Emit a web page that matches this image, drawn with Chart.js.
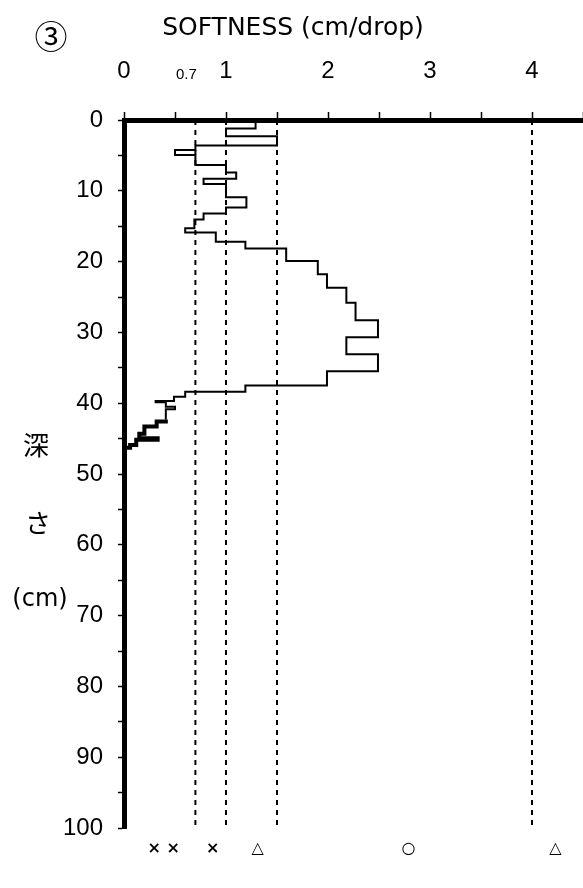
<!DOCTYPE html>
<html>
<head>
<meta charset="utf-8">
<script src="https://cdn.jsdelivr.net/npm/chart.js@4/dist/chart.umd.min.js"></script>
<style>
  body { margin: 0; background: #fff; }
  #wrap { width: 583px; height: 888px; }
</style>
</head>
<body>
<div id="wrap"><canvas id="myChart" width="583" height="888"></canvas></div>
<script>
// depth (cm) where each step starts, and the softness (cm/drop) of that step
const depth = [0, 1.2, 2.3, 3.6, 4.25, 4.95, 6.35, 7.4, 8.3, 9.05,
  10.9, 12.35, 13.2, 14.05, 15.3, 15.9, 17.2, 18.15, 19.9, 21.8,
  23.7, 25.8, 28.3, 30.7, 33.1, 35.5, 37.5, 38.4, 39.1, 39.7,
  39.85, 40.5, 40.85, 42.3, 42.6, 43.3, 44.3, 44.95, 45.15, 45.9,
  46.3];
const softness = [1.29, 1.0, 1.5, 0.7, 0.5, 0.7, 1.0, 1.1, 0.78, 1.0,
  1.2, 1.0, 0.78, 0.69, 0.6, 0.9, 1.19, 1.59, 1.9, 1.99,
  2.18, 2.27, 2.49, 2.18, 2.49, 1.99, 1.19, 0.6, 0.49, 0.31,
  0.41, 0.5, 0.41, 0.41, 0.32, 0.2, 0.15, 0.33, 0.12, 0.06,
  0];
// below this depth the drops are so close together the trace reads as a heavy line
const denseFrom = 42.3;

// dashed limits and the rating marks under each band
const refLines = [0.7, 1.0, 1.5, 4.0];
const markCenters = [0.39, 0.87, 1.31, 2.79, 4.23];
const markLabels = ['× ×', '×', '△', '○', '△'];

const xLabelValues = [0, 1, 2, 3, 4];
const yLabelValues = [0, 10, 20, 30, 40, 50, 60, 70, 80, 90, 100];
const chartTitle = 'SOFTNESS (cm/drop)';
const yTitle = ['深', 'さ', '(cm)'];

const profile = depth.map((d, i) => ({ x: softness[i], y: d }));

const limitSets = refLines.map((v) => ({
  data: [{ x: v, y: 0 }, { x: v, y: 100 }],
  showLine: true,
  borderColor: '#000',
  borderWidth: 2,
  borderDash: [5, 5],
  pointRadius: 0,
  order: 1
}));

const textPlugin = {
  id: 'texts',
  afterDraw(chart) {
    const { ctx } = chart;
    const x = chart.scales.x;
    ctx.save();
    ctx.fillStyle = '#000';
    ctx.textAlign = 'center';
    ctx.textBaseline = 'middle';

    ctx.font = '25px "DejaVu Sans"';
    ctx.fillText(chartTitle, 293, 28);

    ctx.font = '33px "Noto Sans CJK JP"';
    ctx.fillText('③', 51, 36);

    ctx.font = '26px "Noto Sans CJK JP"';
    ctx.fillText(yTitle[0], 36, 445);
    ctx.fillText(yTitle[1], 38, 523);
    ctx.font = '24px "DejaVu Sans"';
    ctx.fillText(yTitle[2], 40, 600);

    ctx.font = '15px "Liberation Sans"';
    ctx.fillText('0.7', x.getPixelForValue(0.7) - 9, 75);

    ctx.font = 'bold 16px "DejaVu Sans"';
    markLabels.forEach((m, i) => {
      ctx.fillText(m, x.getPixelForValue(markCenters[i]), 849);
    });
    ctx.restore();
  }
};

const tickFont = { family: '"Liberation Sans", Arial', size: 24 };

const ctx = document.getElementById('myChart');
const chart = new Chart(ctx, {
  type: 'scatter',
  data: {
    datasets: [
      {
        data: profile,
        showLine: true,
        stepped: 'after',
        borderColor: '#000',
        borderWidth: 2,
        pointRadius: 0,
        order: 0,
        segment: {
          borderWidth: (c) => c.p0.parsed.y >= denseFrom ? 4 : 2
        }
      },
      ...limitSets
    ]
  },
  options: {
    responsive: false,
    animation: false,
    layout: { padding: { left: 0, top: 0, right: 0, bottom: 60 } },
    plugins: { legend: { display: false }, tooltip: { enabled: false } },
    scales: {
      x: {
        type: 'linear',
        position: 'top',
        min: 0,
        max: 4.5,
        afterFit: (scale) => {
          scale.height = 120;
          scale.paddingLeft = 0;
          scale.paddingRight = 0;
        },
        ticks: {
          stepSize: 0.5,
          padding: 26,
          color: '#000',
          font: tickFont,
          maxRotation: 0,
          callback: (v) => xLabelValues.includes(v) ? String(v) : ''
        },
        grid: { drawOnChartArea: false, tickLength: 8, tickWidth: 1.5, color: '#000' },
        border: { display: true, width: 5, color: '#000' }
      },
      y: {
        type: 'linear',
        reverse: true,
        min: 0,
        max: 100,
        afterFit: (scale) => {
          scale.width = 124;
          scale.paddingTop = 0;
          scale.paddingBottom = 0;
        },
        ticks: {
          stepSize: 5,
          padding: 15,
          color: '#000',
          font: tickFont,
          callback: (v) => yLabelValues.includes(v) ? String(v) : ''
        },
        grid: { drawOnChartArea: false, tickLength: 6, tickWidth: 1.5, color: '#000' },
        border: { display: true, width: 5, color: '#000' }
      }
    }
  },
  plugins: [textPlugin]
});
</script>
</body>
</html>
